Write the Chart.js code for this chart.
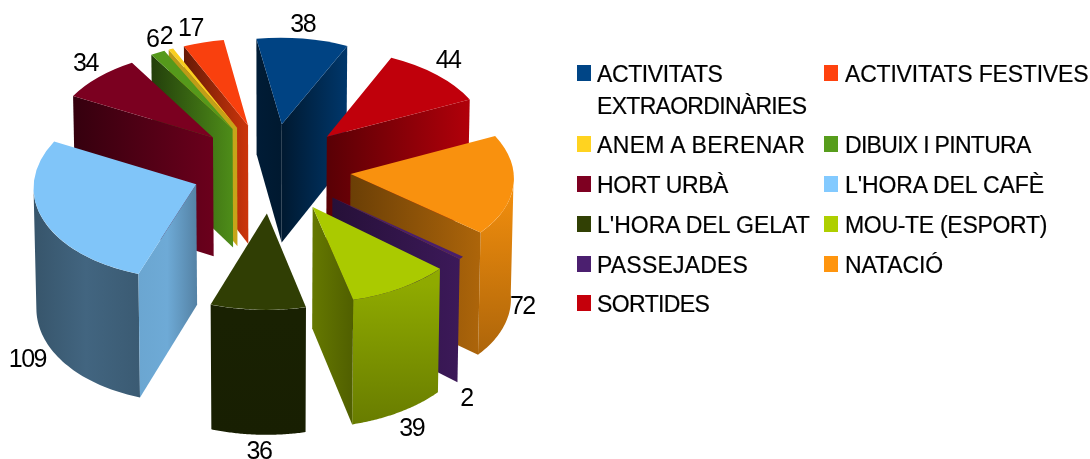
<!DOCTYPE html>
<html>
<head>
<meta charset="utf-8">
<script src="https://cdn.jsdelivr.net/npm/chart.js@4/dist/chart.umd.js"></script>
<style>
html,body{margin:0;padding:0;background:#fff;overflow:hidden}
#wrap{position:relative;width:1090px;height:459px}
canvas{position:absolute;left:0;top:0}
.sw{position:absolute;width:14px;height:16px}
.tx{position:absolute;font:23px/32px "Liberation Sans",Arial,sans-serif;color:#000;white-space:pre;-webkit-text-stroke:.2px #000}
.tx span{display:block}
</style>
</head>
<body>
<div id="wrap"><canvas id="c" width="1090" height="459"></canvas></div>
<script>
const categories = ["ACTIVITATS\nEXTRAORDINÀRIES","ACTIVITATS FESTIVES","ANEM A BERENAR","DIBUIX I PINTURA","HORT URBÀ","L'HORA DEL CAFÈ","L'HORA DEL GELAT","MOU-TE (ESPORT)","PASSEJADES","NATACIÓ","SORTIDES"];
const values = [38,17,2,6,34,109,36,39,2,72,44];
const colors = ["#004586","#ff420e","#ffd320","#579d1c","#7e0021","#83caff","#314004","#aecf00","#4b1f6f","#ff950e","#c5000b"];
// label nudge from the outer-arc anchor of each slice
const labelNudge = [[0,-13],[-13,-13.5],[-5,-12],[-5.5,-13],[-13,-13],[-16,140],[1,142],[11,141],[5,141],[9,121],[11,-14]];
// shading factors, left to right on screen: [start face, end face, wall]
const shade = [
 [[.4,.36],[.36,.8],null],
 [[.4,.8],null,null],
 [[.72,.78],null,null],
 [[.4,.9],null,null],
 [[.42,.85],null,null],
 [[.82,.84,.65],null,[.42,.5,.45]],
 [null,null,[.52,.48]],
 [null,[.58,.46],[.82,.6]],
 [null,[.5,.8],null],
 [null,[.42,.68],[.95,.68]],
 [null,[.45,.9],null]
];
const topShade = .975;
const legendCols = [577,824], legendTextX = [597,845], legendRows = [64.5,136,176,216,256,295];
const legendSpacing = [[-.4,-.7],[-.2],[.36],[-.7],[-.4],[-.1],[0],[-.3],[.2],[-.1],[-.6]];

const CX=271, CY=168, EXPLODE=80, RADIUS=163;
function proj(X,Y){
  const sag = Y<0 && X>0 ? .00008*X*Y : 0;
  return [CX+X*(1-.0002*Y)-.008*Y, CY-.562*Y+.0001*Y*Y+sag];
}
function extrude(p){const h=120+(p[1]-170)*.035;return [p[0]+(CX-p[0])*.012,p[1]+h];}
function rgb(hex,f){const n=parseInt(hex.slice(1),16);return `rgb(${Math.round((n>>16&255)*f)},${Math.round((n>>8&255)*f)},${Math.round((n&255)*f)})`;}
function sliceMatrix(arc){
  const m=(arc.startAngle+arc.endAngle)/2,r=arc.outerRadius;
  const ox=EXPLODE*Math.cos(m),oy=-EXPLODE*Math.sin(m);
  const at=t=>proj(ox+r*Math.cos(t),oy-r*Math.sin(t));
  const P0=proj(ox,oy),P1=at(arc.startAngle),P2=at(arc.endAngle);
  const bx=r*Math.cos(arc.startAngle),by=r*Math.sin(arc.startAngle);
  const qx=r*Math.cos(arc.endAngle),qy=r*Math.sin(arc.endAngle);
  const det=bx*qy-by*qx;
  const a=((P1[0]-P0[0])*qy-(P2[0]-P0[0])*by)/det;
  const c=((P2[0]-P0[0])*bx-(P1[0]-P0[0])*qx)/det;
  const b=((P1[1]-P0[1])*qy-(P2[1]-P0[1])*by)/det;
  const d=((P2[1]-P0[1])*bx-(P1[1]-P0[1])*qx)/det;
  return {a,b,c,d,e:P0[0]-a*arc.x-c*arc.y,f:P0[1]-b*arc.x-d*arc.y,P0,
    map(t,rr){const u=rr*Math.cos(t),v=rr*Math.sin(t);return [P0[0]+a*u+c*v,P0[1]+b*u+d*v];}};
}
function fillPoly(ctx,pts,style){ctx.beginPath();pts.forEach((p,i)=>i?ctx.lineTo(p[0],p[1]):ctx.moveTo(p[0],p[1]));ctx.closePath();ctx.fillStyle=style;ctx.fill();}
function grad(ctx,x0,y0,x1,y1,hex,fs){const g=ctx.createLinearGradient(x0,y0,x1,y1);fs.forEach((f,i)=>g.addColorStop(i/(fs.length-1),rgb(hex,f)));return g;}
function face(ctx,M,t,hex,fs){
  const A=M.P0,B=M.map(t,RADIUS),A2=extrude(A),B2=extrude(B);
  const lo=Math.min(A[0],B[0]),hi=Math.max(A[0],B[0]);
  fillPoly(ctx,[A,B,B2,A2],grad(ctx,lo,0,hi,0,hex,fs));
}
function wall(ctx,M,t0,t1,hex,fs){
  const pts=[],n=60;
  for(let i=0;i<=n;i++){const t=t0+(t1-t0)*i/n;if(Math.sin(t)>=-1e-3)pts.push(M.map(t,RADIUS));}
  if(pts.length<2)return;
  const bot=pts.map(extrude).reverse();
  const xs=pts.map(p=>p[0]),ys=pts.concat(bot).map(p=>p[1]);
  const style=fs.length===3?grad(ctx,Math.min(...xs),0,Math.max(...xs),0,hex,fs)
    :grad(ctx,0,Math.min(...ys)+15,0,Math.max(...ys),hex,fs);
  fillPoly(ctx,pts.concat(bot),style);
}

// drawing order on the circle: first category, then the others going backwards
const order=[0,...values.map((_,i)=>i).slice(1).reverse()];

const pie3d={
  id:'pie3d',
  beforeDatasetsDraw(chart){
    const ctx=chart.ctx,arcs=chart.getDatasetMeta(0).data;
    const items=arcs.map((arc,i)=>({arc,src:order[i],M:sliceMatrix(arc),mid:(arc.startAngle+arc.endAngle)/2}));
    items.sort((p,q)=>Math.sin(p.mid)-Math.sin(q.mid));
    items.forEach(({arc,src,M})=>{
      const s=shade[src],hex=colors[src];
      if(s[2])wall(ctx,M,arc.startAngle,arc.endAngle,hex,s[2]);
      if(s[0])face(ctx,M,arc.startAngle,hex,s[0]);
      if(s[1])face(ctx,M,arc.endAngle,hex,s[1]);
      ctx.save();ctx.transform(M.a,M.b,M.c,M.d,M.e,M.f);arc.draw(ctx);ctx.restore();
    });
    return false;
  },
  afterDraw(chart){
    const ctx=chart.ctx,arcs=chart.getDatasetMeta(0).data;
    ctx.save();ctx.fillStyle='#000';ctx.font='25px "Liberation Sans", Arial, sans-serif';
    ctx.letterSpacing='-1.5px';
    ctx.textAlign='center';ctx.textBaseline='middle';
    arcs.forEach((arc,i)=>{
      const src=order[i],M=sliceMatrix(arc),m=(arc.startAngle+arc.endAngle)/2,p=M.map(m,RADIUS),n=labelNudge[src];
      ctx.fillText(String(values[src]),p[0]+n[0],p[1]+n[1]);
    });
    ctx.restore();
  }
};

new Chart(document.getElementById('c'),{
  type:'pie',
  data:{labels:order.map(i=>categories[i].replace('\n',' ')),
    datasets:[{data:order.map(i=>values[i]),backgroundColor:order.map(i=>rgb(colors[i],topShade)),borderWidth:0,radius:RADIUS}]},
  options:{responsive:false,animation:false,devicePixelRatio:1,rotation:-8.8,
    events:[],layout:{padding:{right:550}},
    plugins:{legend:{display:false},tooltip:{enabled:false}}},
  plugins:[pie3d]
});

// legend
const wrap=document.getElementById('wrap');
const rowOf=[0,0,1,1,2,2,3,3,4,4,5];
categories.forEach((t,i)=>{
  const col=i%2,sw=document.createElement('div'),tx=document.createElement('div');
  sw.className='sw';sw.style.left=legendCols[col]+'px';sw.style.top=legendRows[rowOf[i]]+'px';sw.style.background=colors[i];
  tx.className='tx';tx.style.left=legendTextX[col]+'px';tx.style.top=(legendRows[rowOf[i]]-7)+'px';
  t.split('\n').forEach((line,j)=>{const sp=document.createElement('span');sp.textContent=line;sp.style.letterSpacing=legendSpacing[i][j]+'px';tx.appendChild(sp);});
  wrap.appendChild(sw);wrap.appendChild(tx);
});
</script>
</body>
</html>
